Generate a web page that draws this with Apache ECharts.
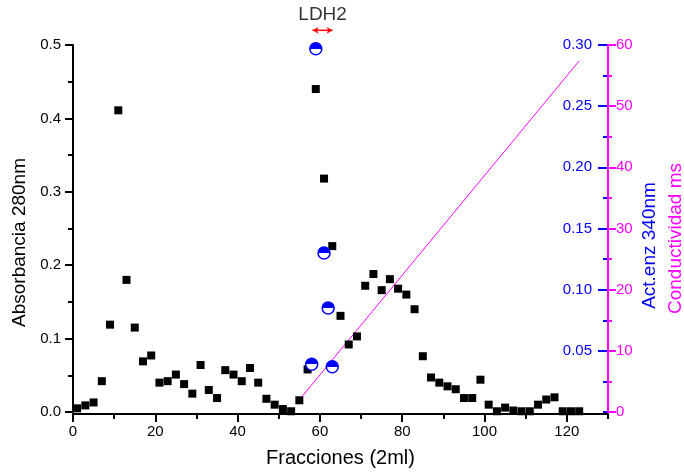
<!DOCTYPE html>
<html>
<head>
<meta charset="utf-8">
<script src="https://cdn.jsdelivr.net/npm/echarts@6/dist/echarts.min.js"></script>
<style>
  html, body { margin: 0; padding: 0; background: #fff; }
  #chart { width: 684px; height: 473px; }
</style>
</head>
<body>
<div id="chart"></div>
<script>
// fractions (2 ml each) and absorbance at 280 nm
const fractions = [1, 3, 5, 7, 9, 11, 13, 15, 17, 19, 21, 23, 25, 27, 29, 31, 33, 35, 37, 39,
  41, 43, 45, 47, 49, 51, 53, 55, 57, 59, 61, 63, 65, 67, 69, 71, 73, 75, 77, 79,
  81, 83, 85, 87, 89, 91, 93, 95, 97, 99, 101, 103, 105, 107, 109, 111, 113, 115, 117, 119,
  121, 123]
const absorbance = [0.005, 0.009, 0.013, 0.042, 0.119, 0.411, 0.180, 0.115, 0.069, 0.077,
  0.040, 0.042, 0.051, 0.038, 0.025, 0.064, 0.030, 0.019, 0.057, 0.051,
  0.042, 0.060, 0.040, 0.018, 0.010, 0.004, 0.001, 0.016, 0.058, 0.440,
  0.318, 0.226, 0.131, 0.092, 0.103, 0.172, 0.188, 0.166, 0.181, 0.168,
  0.160, 0.140, 0.076, 0.047, 0.040, 0.035, 0.031, 0.019, 0.019, 0.044,
  0.010, 0.001, 0.006, 0.002, 0.001, 0.001, 0.010, 0.017, 0.020, 0.001,
  0.001, 0.001]

// enzyme activity at 340 nm
const actFractions = [58, 59, 61, 62, 63]
const activity = [0.039, 0.297, 0.130, 0.085, 0.037]

// conductivity gradient (ms)
const condFractions = [55, 123]
const conductivity = [2, 57.4]

// LDH2 pool marker
const ldhRange = [58.2, 63.1]
const ldhLevel = 0.52

const FONT = 'Liberation Sans'
const BLUE = '#0000ff'
const MAGENTA = '#ff00ff'

const chart = echarts.init(document.getElementById('chart'))

const zip = (xs, ys) => xs.map((x, i) => [x, ys[i]])

// an axis that only draws short ticks (used instead of minorTick)
const tickOnlyAxis = (extra) => Object.assign({
  type: 'value',
  axisLine: { show: false, onZero: false },
  axisLabel: { show: false },
  splitLine: { show: false }
}, extra)

const option = {
  animation: false,
  textStyle: { fontFamily: FONT },
  grid: { left: 73, right: 76, top: 45, bottom: 61, containLabel: false, outerBoundsMode: 'none' },
  xAxis: [
    {
      type: 'value',
      min: 0,
      max: 130,
      interval: 20,
      offset: 2,
      name: 'Fracciones (2ml)',
      nameLocation: 'middle',
      nameGap: 34,
      nameTextStyle: { fontSize: 20, color: '#000', fontFamily: FONT },
      axisLine: { onZero: false, lineStyle: { color: '#000', width: 2 } },
      axisTick: { length: 8, lineStyle: { width: 2, color: '#000' } },
      axisLabel: { fontSize: 15, color: '#000', margin: 10, showMaxLabel: false },
      splitLine: { show: false }
    },
    tickOnlyAxis({
      min: 0,
      max: 130,
      interval: 10,
      offset: 2,
      position: 'bottom',
      axisTick: { length: 5, lineStyle: { width: 2, color: '#000' } }
    })
  ],
  yAxis: [
    {
      type: 'value',
      min: 0,
      max: 0.5,
      interval: 0.1,
      position: 'left',
      name: 'Absorbancia 280nm',
      nameLocation: 'middle',
      nameGap: 44,
      nameTextStyle: { fontSize: 19, color: '#000', fontFamily: FONT, padding: [0, 28, 0, 0] },
      axisLine: { show: true, onZero: false, lineStyle: { color: '#000', width: 2 } },
      axisTick: { show: true, length: 8, lineStyle: { width: 2, color: '#000' } },
      axisLabel: { fontSize: 15, color: '#000', margin: 12, formatter: v => v.toFixed(1) },
      splitLine: { show: false }
    },
    {
      type: 'value',
      min: 0,
      max: 0.3,
      interval: 0.05,
      position: 'right',
      name: 'Act.enz 340nm',
      nameLocation: 'middle',
      nameRotate: 90,
      nameGap: 32,
      nameTextStyle: { fontSize: 19, color: BLUE, fontFamily: FONT, padding: [0, 34, 0, 0] },
      axisLine: { show: false, onZero: false },
      axisTick: { show: true, inside: true, length: 10, lineStyle: { width: 2, color: BLUE } },
      axisLabel: { inside: true, fontSize: 15, color: BLUE, margin: 16, showMinLabel: false, formatter: v => v.toFixed(2) },
      splitLine: { show: false }
    },
    {
      type: 'value',
      min: 0,
      max: 60,
      interval: 10,
      position: 'right',
      name: 'Conductividad ms',
      nameLocation: 'middle',
      nameRotate: 90,
      nameGap: 58,
      nameTextStyle: { fontSize: 19, color: MAGENTA, fontFamily: FONT, padding: [0, 20, 0, 0] },
      axisLine: { show: true, onZero: false, lineStyle: { color: MAGENTA, width: 2 } },
      axisTick: { show: true, length: 8, lineStyle: { width: 2, color: MAGENTA } },
      axisLabel: { fontSize: 15, color: MAGENTA, margin: 8 },
      splitLine: { show: false },
      z: 3
    },
    // minor ticks
    tickOnlyAxis({
      min: 0, max: 0.5, interval: 0.05, position: 'left',
      axisTick: { show: true, length: 5, lineStyle: { width: 2, color: '#000' } }
    }),
    tickOnlyAxis({
      min: 0, max: 0.3, interval: 0.025, position: 'right',
      axisTick: { show: true, inside: true, length: 5, lineStyle: { width: 2, color: BLUE } }
    }),
    tickOnlyAxis({
      min: 0, max: 60, interval: 5, position: 'right',
      axisTick: { show: true, length: 4, lineStyle: { width: 2, color: MAGENTA } }
    })
  ],
  series: [
    {
      name: 'Conductividad',
      type: 'line',
      yAxisIndex: 2,
      data: zip(condFractions, conductivity),
      showSymbol: false,
      symbol: 'none',
      lineStyle: { color: MAGENTA, width: 1 },
      z: 2
    },
    {
      name: 'Absorbancia',
      type: 'scatter',
      yAxisIndex: 0,
      data: zip(fractions, absorbance),
      symbol: 'rect',
      symbolSize: 8,
      itemStyle: { color: '#000', opacity: 1 },
      z: 3
    },
    {
      name: 'Act.enz',
      type: 'scatter',
      yAxisIndex: 1,
      data: zip(actFractions, activity),
      symbol: 'circle',
      symbolSize: 12,
      itemStyle: {
        color: new echarts.graphic.LinearGradient(0, 0, 0, 1, [
          { offset: 0, color: BLUE },
          { offset: 0.5, color: BLUE },
          { offset: 0.5, color: '#fff' },
          { offset: 1, color: '#fff' }
        ]),
        borderColor: BLUE,
        borderWidth: 1.5,
        opacity: 1
      },
      z: 4
    },
    {
      name: 'LDH2',
      type: 'line',
      yAxisIndex: 0,
      clip: false,
      data: [
        { value: [ldhRange[0], ldhLevel], symbolRotate: 90 },
        { value: [ldhRange[1], ldhLevel], symbolRotate: -90 }
      ],
      symbol: 'arrow',
      symbolSize: [5, 6],
      itemStyle: { color: '#ff0000' },
      lineStyle: { color: '#ff0000', width: 1.5 },
      z: 5
    },
    {
      name: 'LDH2 label',
      type: 'scatter',
      yAxisIndex: 0,
      clip: false,
      data: [[(ldhRange[0] + ldhRange[1]) / 2, ldhLevel]],
      symbolSize: 0,
      label: {
        show: true,
        position: 'top',
        distance: 6,
        formatter: 'LDH2',
        fontSize: 19,
        color: '#000',
        fontFamily: FONT
      },
      z: 5
    }
  ]
}

chart.setOption(option)
</script>
</body>
</html>
